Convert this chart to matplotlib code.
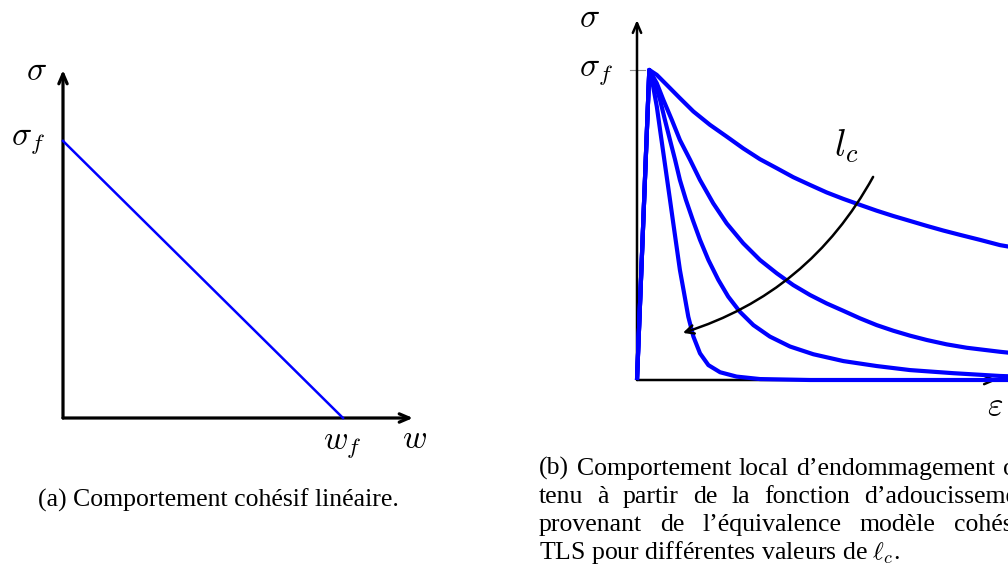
import matplotlib.pyplot as plt

plt.rcParams['mathtext.fontset'] = 'cm'
plt.rcParams['font.family'] = 'Liberation Serif'

W, H = 1008, 573
BLUE = '#0000ff'

# (a) linear cohesive law: sigma_f at w = 0, zero at w = w_f
coh_w = [0.0, 1.0]
coh_sigma = [1.0, 0.0]

# (b) local damage response for several l_c (strain, normalised stress)
eps_a = [0.0, 0.041, 0.066, 0.099, 0.143, 0.188, 0.243, 0.299, 0.354, 0.41, 0.466, 0.521,
         0.577, 0.632, 0.688, 0.743, 0.799, 0.854, 0.91, 0.966, 1.021, 1.077, 1.143, 1.21, 1.24]
sig_a = [0.0, 1.0, 0.984, 0.952, 0.909, 0.866, 0.823, 0.785, 0.747, 0.712, 0.683, 0.654,
         0.629, 0.605, 0.584, 0.565, 0.546, 0.529, 0.513, 0.497, 0.482, 0.468, 0.452, 0.435, 0.43]
eps_b = [0.0, 0.041, 0.066, 0.088, 0.116, 0.143, 0.177, 0.21, 0.254, 0.299, 0.354, 0.41,
         0.466, 0.521, 0.577, 0.632, 0.688, 0.743, 0.799, 0.854, 0.91, 0.966, 1.032, 1.099,
         1.21, 1.24]
sig_b = [0.0, 1.0, 0.957, 0.903, 0.839, 0.774, 0.71, 0.645, 0.57, 0.505, 0.441, 0.387,
         0.344, 0.306, 0.274, 0.247, 0.223, 0.199, 0.177, 0.159, 0.143, 0.129, 0.115, 0.104,
         0.091, 0.088]
eps_c = [0.0, 0.041, 0.06, 0.077, 0.093, 0.11, 0.127, 0.143, 0.163, 0.186, 0.21, 0.238,
         0.271, 0.304, 0.343, 0.388, 0.443, 0.51, 0.588, 0.688, 0.799, 0.91, 1.054, 1.21, 1.24]
sig_c = [0.0, 1.0, 0.957, 0.903, 0.839, 0.774, 0.71, 0.645, 0.581, 0.516, 0.452, 0.387,
         0.323, 0.269, 0.22, 0.177, 0.14, 0.108, 0.083, 0.061, 0.045, 0.032, 0.022, 0.013, 0.012]
eps_d = [0.0, 0.041, 0.054, 0.066, 0.077, 0.088, 0.099, 0.11, 0.121, 0.132, 0.143, 0.157,
         0.171, 0.188, 0.21, 0.238, 0.277, 0.332, 0.41, 0.577, 1.24]
sig_d = [0.0, 1.0, 0.946, 0.882, 0.806, 0.731, 0.656, 0.581, 0.505, 0.43, 0.355, 0.28,
         0.204, 0.14, 0.086, 0.048, 0.025, 0.011, 0.003, 0.0, 0.0]
curves = [(eps_a, sig_a), (eps_b, sig_b), (eps_c, sig_c), (eps_d, sig_d)]

caption_a = "(a) Comportement cohésif linéaire."
# caption (b): justified lines (word lists) and a last, ragged line
caption_b_words = [
    ["(b)", "Comportement", "local", "d’endommagement", "ob-"],
    ["tenu", "à", "partir", "de", "la", "fonction", "d’adoucissement"],
    ["provenant", "de", "l’équivalence", "modèle", "cohésif-"],
]
caption_b_last = "TLS pour différentes valeurs de $\\ell_c$."
caption_b_y = [475, 503, 531, 559]
CAP_LEFT, CAP_RIGHT = 539, 1037
CAP_SIZE = 18.5

fig = plt.figure(figsize=(W / 100, H / 100), dpi=100)


def axes_px(x0, y0, x1, y1):
    # axes box given in pixel corners (origin top-left)
    return fig.add_axes([x0 / W, (H - y1) / H, (x1 - x0) / W, (y1 - y0) / H])


def draw_arrow_axes(ax, xmax, ymax, lw):
    kw = dict(arrowstyle='->,head_length=0.7,head_width=0.3', lw=lw, color='black',
              shrinkA=0, shrinkB=0)
    ax.annotate('', xy=(xmax, 0), xytext=(0, 0), arrowprops=kw, annotation_clip=False)
    ax.annotate('', xy=(0, ymax), xytext=(0, 0), arrowprops=kw, annotation_clip=False)


# ---- panel (a)
ax1 = axes_px(63, 70, 413, 418)
ax1.set_xlim(0, 1.25)
ax1.set_ylim(0, 1.256)
ax1.axis('off')
draw_arrow_axes(ax1, 1.25, 1.256, 2.3)
ax1.plot(coh_w, coh_sigma, color=BLUE, lw=1.8, clip_on=False, zorder=3)
ax1.text(-0.064, 0.986, r'$\sigma_f$', fontsize=24, ha='right', va='baseline')
ax1.text(-0.095, 1.22, r'$\sigma$', fontsize=24, ha='center', va='baseline')
ax1.text(0.93, -0.108, r'$w_f$', fontsize=24, ha='left', va='baseline')
ax1.text(1.21, -0.108, r'$w$', fontsize=24, ha='left', va='baseline')

fig.text(38 / W, 1 - 507 / H, caption_a, fontsize=CAP_SIZE, ha='left', va='baseline')

# ---- panel (b)
ax2 = axes_px(637, 20, 997, 380)
ax2.set_xlim(0, 1.2)
ax2.set_ylim(0, 1.161)
ax2.axis('off')
draw_arrow_axes(ax2, 1.2, 1.161, 1.8)
ax2.plot([-0.023, 0.027], [1.0, 1.0], color='0.55', lw=0.8, clip_on=False)
for eps, sig in curves:
    ax2.plot(eps, sig, color=BLUE, lw=3.0, clip_on=False, zorder=3,
             solid_joinstyle='round', solid_capstyle='butt')

ax2.annotate('', xy=(0.153, 0.152), xytext=(0.787, 0.655),
             arrowprops=dict(arrowstyle='->,head_length=0.6,head_width=0.3', lw=1.8,
                             color='black', connectionstyle='arc3,rad=-0.2',
                             shrinkA=0, shrinkB=0), zorder=4)
ax2.text(0.697, 0.719, r'$l_c$', fontsize=27, ha='center', va='baseline')
ax2.text(-0.08, 0.984, r'$\sigma_f$', fontsize=24, ha='right', va='baseline')
ax2.text(-0.157, 1.139, r'$\sigma$', fontsize=24, ha='center', va='baseline')
ax2.text(1.167, -0.113, r'$\varepsilon$', fontsize=24, ha='left', va='baseline')

# justified caption lines: measure the words, spread the leftover space evenly
renderer = fig.canvas.get_renderer()
for words, y in zip(caption_b_words, caption_b_y):
    texts = [fig.text(0, 1 - y / H, w, fontsize=CAP_SIZE, ha='left', va='baseline')
             for w in words]
    widths = [t.get_window_extent(renderer).width for t in texts]
    gap = (CAP_RIGHT - CAP_LEFT - sum(widths)) / (len(words) - 1)
    x = CAP_LEFT
    for t, w in zip(texts, widths):
        t.set_x(x / W)
        x += w + gap
fig.text(CAP_LEFT / W, 1 - caption_b_y[3] / H, caption_b_last, fontsize=CAP_SIZE,
         ha='left', va='baseline')

plt.savefig('out.png', dpi=100)
